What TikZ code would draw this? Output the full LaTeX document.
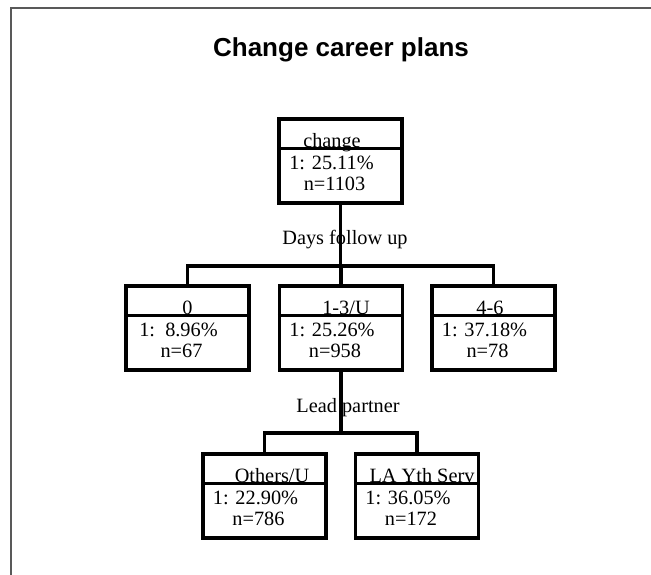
\documentclass[tikz,border=0pt]{standalone}
\usepackage{fontspec}
\setmainfont{Liberation Serif}
\newfontfamily\titlefont{Liberation Sans}
\usetikzlibrary{calc}

\tikzset{
  treebox/.style={draw=black, line width=3.2pt, rectangle, inner sep=0pt,
    minimum width=123pt, minimum height=84pt},
  divider/.style={line width=3pt},
  conn/.style={line width=3.3pt, line cap=rect},
  frameline/.style={draw=black!65, line width=2pt},
  txt/.style={anchor=base, inner sep=0pt, font=\fontsize{20.3}{24}\selectfont},
  headline/.style={anchor=base, inner sep=0pt, font=\titlefont\bfseries\fontsize{26}{30}\selectfont},
}

% one tree node: box, header divider, label and two statistic lines
\newcommand{\treenode}[7]{%
  % #1 name, #2 x, #3 top y, #4 label, #5 label offset, #6 percent line, #7 count line
  \node[treebox] (#1) at (#2,#3+42) {};
  \draw[divider] ($(#1.north west)+(0,31)$) -- ($(#1.north east)+(0,31)$);
  \node[txt] (#1-lab) at ($(#1.north)+(#5,30)$) {#4};
  \node[txt] (#1-pct) at ($(#1.north)+(-9,52.5)$) {#6};
  \node[txt] (#1-cnt) at ($(#1.north)+(-6,73.5)$) {#7};
}

\begin{document}
\begin{tikzpicture}[x=1pt,y=-1pt]
  \useasboundingbox (0,0) rectangle (651,575);
  \clip (0,0) rectangle (651,575);
  \fill[white] (0,0) rectangle (651,575);

  % outer frame (continues past the page on the right and bottom)
  \draw[frameline] (11,590) -- (11,8) -- (670,8);

  \node[headline] (title) at (341,57) {Change career plans};

  \treenode{root}{340.5}{119}{change}{-8.5}{1: 25.11\%}{n=1103}
  \treenode{n0}{187.5}{286}{0}{0}{1:\ \ 8.96\%}{n=67}
  \treenode{n1}{341}{286}{1-3/U}{5}{1: 25.26\%}{n=958}
  \treenode{n2}{493.5}{286}{4-6}{-3.5}{1: 37.18\%}{n=78}
  \treenode{n3}{264.5}{454}{Others/U}{7.5}{1: 22.90\%}{n=786}
  \treenode{n4}{417}{454}{LA Yth Serv}{5}{1: 36.05\%}{n=172}

  \node[txt] (split1) at (345,244) {Days follow up};
  \node[txt] (split2) at (348,412) {Lead partner};

  % branch connectors
  \coordinate (bar1) at (340.5,266);
  \coordinate (bar2) at (341,433);
  \draw[conn] (root.south) -- (bar1);
  \draw[conn] (n0.north) -- (n0.north |- bar1) -- (n2.north |- bar1) -- (n2.north);
  \draw[conn] (n1.north) -- (n1.north |- bar1);
  \draw[conn] (n1.south) -- (bar2);
  \draw[conn] (n3.north) -- (n3.north |- bar2) -- (n4.north |- bar2) -- (n4.north);
\end{tikzpicture}
\end{document}
